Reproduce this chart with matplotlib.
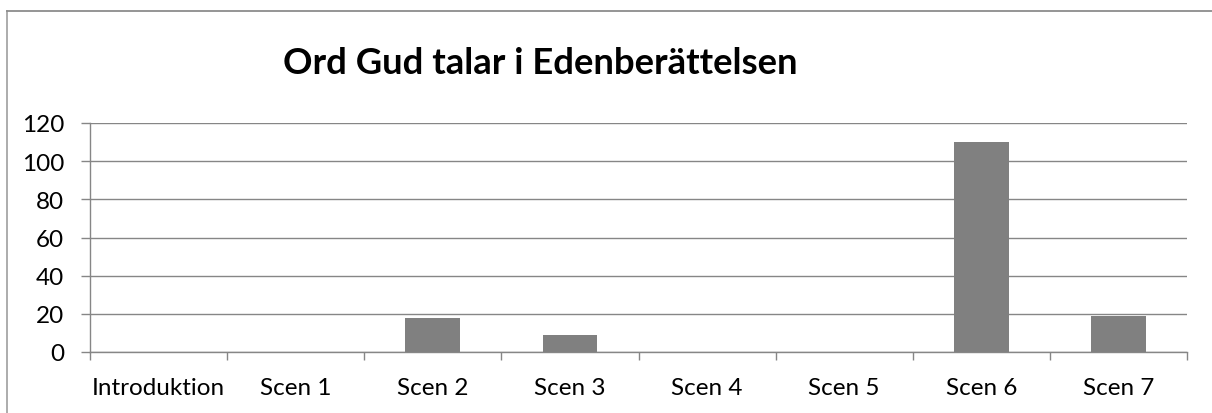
import matplotlib
matplotlib.use("Agg")
import matplotlib.pyplot as plt
from matplotlib.lines import Line2D
from matplotlib.ticker import FixedLocator, MultipleLocator

categories = ["Introduktion", "Scen 1", "Scen 2", "Scen 3", "Scen 4", "Scen 5", "Scen 6", "Scen 7"]
values = [0, 0, 18, 9, 0, 0, 110, 19]
title = "Ord Gud talar i Edenberättelsen"

W, H = 1212, 414
fig = plt.figure(figsize=(W / 100, H / 100), dpi=100)
plt.rcParams['font.family'] = ['Lato', 'DejaVu Sans']

left, right, bottom, top = 90, 1187, 353, 124
ax = fig.add_axes([left / W, (H - bottom) / H, (right - left) / W, (bottom - top) / H])

gray = "#868686"
x = list(range(len(categories)))
ax.bar(x, values, width=0.4, color="#808080", zorder=3)
ax.set_xlim(-0.5, len(categories) - 0.5)
ax.set_ylim(0, 120)
ax.yaxis.set_major_locator(MultipleLocator(20))
ax.grid(axis="y", color=gray, linewidth=1.0, zorder=0)

for s in ["top", "right"]:
    ax.spines[s].set_visible(False)
for s in ["left", "bottom"]:
    ax.spines[s].set_color(gray)
    ax.spines[s].set_linewidth(1.0)

ax.xaxis.set_major_locator(FixedLocator([i - 0.5 for i in range(len(categories) + 1)]))
ax.xaxis.set_major_formatter(plt.NullFormatter())
ax.xaxis.set_minor_locator(FixedLocator(x))
ax.set_xticks(x, categories, minor=True)
ax.tick_params(axis="x", which="major", length=6, color=gray, width=1.0, direction="out")
ax.tick_params(axis="x", which="minor", length=0, pad=18, labelsize=17.5)
ax.tick_params(axis="y", which="major", length=6.5, color=gray, width=1.0, pad=12, labelsize=17.5)

fig.text(540 / W, 1 - 63 / H, title, ha="center", va="center", fontsize=26.3, fontweight="bold")

# chart border (left and top)
fig.add_artist(Line2D([6.5 / W, 6.5 / W], [0, 1 - 11.5 / H], color="#a6a6a6", linewidth=1.3, transform=fig.transFigure))
fig.add_artist(Line2D([6.5 / W, 1], [1 - 11.5 / H, 1 - 11.5 / H], color="#8c8c8c", linewidth=1.3, transform=fig.transFigure))

fig.savefig("out.png", dpi=100)
